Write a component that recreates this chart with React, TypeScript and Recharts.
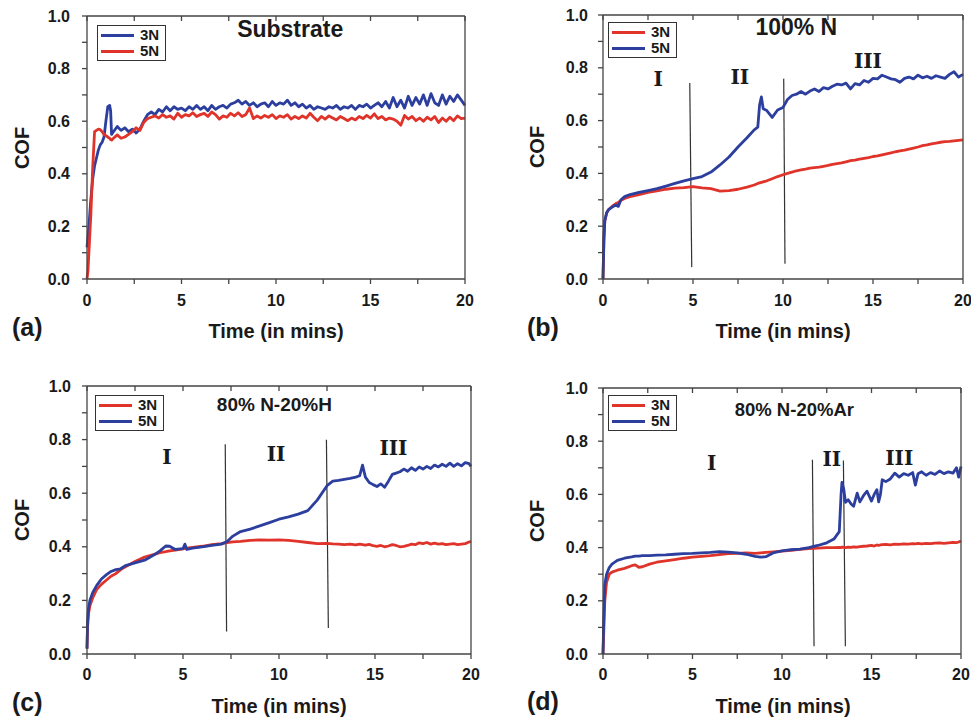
import { LineChart, Line, XAxis, YAxis, ReferenceLine, ReferenceDot, Legend } from 'recharts'

const BLUE = '#2c3f9e'
const RED = '#e0332a'
const AXIS = '#444'
const INK = '#1a1a1a'
const FONT = "'Liberation Sans', Arial, Helvetica, sans-serif"
const SERIF = "'DejaVu Serif', serif"

const xTicks = [0, 2.5, 5, 7.5, 10, 12.5, 15, 17.5, 20]
const yTicks = [0, 0.1, 0.2, 0.3, 0.4, 0.5, 0.6, 0.7, 0.8, 0.9, 1.0]

// (a) Substrate
const timeA = [
  0, 0.05, 0.1, 0.2, 0.3, 0.4, 0.5, 0.6, 0.7, 0.8, 0.9, 1.0, 1.1, 1.2, 1.25, 1.3,
  1.4, 1.6, 1.8, 2.0, 2.2, 2.4, 2.6, 2.8, 3.0, 3.2,
  3.4, 3.6, 3.8, 4.0, 4.2, 4.4, 4.6, 4.8, 5.0, 5.2,
  5.4, 5.6, 5.8, 6.0, 6.2, 6.4, 6.6, 6.8, 7.0, 7.2,
  7.4, 7.6, 7.8, 8.0, 8.2, 8.4, 8.6, 8.8, 9.0, 9.2,
  9.4, 9.6, 9.8, 10.0, 10.2, 10.4, 10.6, 10.8, 11.0, 11.2,
  11.4, 11.6, 11.8, 12.0, 12.2, 12.4, 12.6, 12.8, 13.0, 13.2,
  13.4, 13.6, 13.8, 14.0, 14.2, 14.4, 14.6, 14.8, 15.0, 15.2,
  15.4, 15.6, 15.8, 16.0, 16.2, 16.4, 16.6, 16.8, 17.0, 17.2,
  17.4, 17.6, 17.8, 18.0, 18.2, 18.4, 18.6, 18.8, 19.0, 19.2,
  19.4, 19.6, 19.8, 20.0,
]
const a3N = [
  0.12, 0.16, 0.2, 0.3, 0.38, 0.43, 0.46, 0.49, 0.51, 0.52, 0.54, 0.6, 0.655, 0.66, 0.64, 0.55,
  0.56, 0.58, 0.565, 0.575, 0.56, 0.57, 0.555, 0.57, 0.6, 0.625,
  0.635, 0.625, 0.645, 0.635, 0.655, 0.64, 0.655, 0.645, 0.65, 0.64,
  0.655, 0.645, 0.66, 0.645, 0.655, 0.64, 0.66, 0.645, 0.655, 0.66,
  0.65, 0.665, 0.67, 0.68, 0.665, 0.675, 0.66, 0.67, 0.655, 0.665,
  0.67, 0.655, 0.675, 0.66, 0.67, 0.665, 0.68, 0.66, 0.67, 0.655,
  0.665, 0.65, 0.66, 0.645, 0.655, 0.65, 0.645, 0.655, 0.65, 0.66,
  0.645, 0.655, 0.65, 0.66, 0.645, 0.66, 0.655, 0.665, 0.65, 0.66,
  0.67, 0.655, 0.675, 0.65, 0.69, 0.655, 0.68, 0.65, 0.695, 0.66,
  0.69, 0.665, 0.7, 0.66, 0.705, 0.67, 0.66, 0.7, 0.665, 0.695,
  0.675, 0.7, 0.68, 0.66,
]
const a5N = [
  0, 0.03, 0.1, 0.24, 0.42, 0.56, 0.565, 0.57, 0.568, 0.56, 0.55, 0.545, 0.54, 0.535, 0.53, 0.528,
  0.535, 0.548, 0.535, 0.54, 0.55, 0.56, 0.575, 0.565, 0.595, 0.61,
  0.615, 0.62, 0.612, 0.625, 0.615, 0.62, 0.608, 0.63, 0.615, 0.625,
  0.62, 0.632, 0.618, 0.625, 0.63, 0.618, 0.635, 0.625, 0.608, 0.62,
  0.615, 0.63, 0.62, 0.632, 0.618, 0.625, 0.65, 0.61, 0.62, 0.612,
  0.622, 0.615, 0.625, 0.61, 0.62, 0.615, 0.625, 0.608, 0.618, 0.61,
  0.62, 0.612, 0.63, 0.615, 0.602, 0.618, 0.608, 0.62, 0.612, 0.605,
  0.618, 0.61, 0.602, 0.612, 0.605, 0.618, 0.61, 0.622, 0.612, 0.628,
  0.61, 0.618, 0.605, 0.612, 0.608, 0.6, 0.585, 0.622, 0.608, 0.618,
  0.602, 0.612, 0.6, 0.615, 0.605, 0.618, 0.595, 0.612, 0.6, 0.615,
  0.602, 0.62, 0.61, 0.612,
]

// (b) 100% N
const timeB = [
  0, 0.05, 0.1, 0.2, 0.3, 0.5, 0.7, 0.85, 1.0, 1.2, 1.5,
  2.0, 2.5, 3.0, 3.5, 4.0, 4.5, 5.0, 5.5, 6.0, 6.5, 7.0,
  7.5, 8.0, 8.4, 8.6, 8.7, 8.8, 8.9, 9.1, 9.4, 9.7, 10.0,
  10.25, 10.5, 10.75, 11.0, 11.25, 11.5, 11.75, 12.0, 12.25, 12.5,
  12.75, 13.0, 13.25, 13.5, 13.75, 14.0, 14.25, 14.5, 14.75, 15.0,
  15.25, 15.5, 15.75, 16.0, 16.25, 16.5, 16.75, 17.0, 17.25, 17.5,
  17.75, 18.0, 18.25, 18.5, 18.75, 19.0, 19.25, 19.5, 19.75, 20.0,
]
const b3N = [
  0, 0.15, 0.22, 0.25, 0.262, 0.275, 0.285, 0.29, 0.298, 0.305, 0.312,
  0.32, 0.328, 0.334, 0.34, 0.344, 0.346, 0.35, 0.345, 0.342, 0.333, 0.335,
  0.34, 0.348, 0.356, 0.362, 0.364, 0.366, 0.368, 0.372, 0.38, 0.388, 0.395,
  0.4, 0.405, 0.41, 0.413, 0.416, 0.42, 0.422, 0.424, 0.427, 0.43,
  0.434, 0.437, 0.44, 0.444, 0.448, 0.45, 0.454, 0.457, 0.46, 0.464,
  0.466, 0.47, 0.474, 0.478, 0.482, 0.485, 0.488, 0.492, 0.496, 0.5,
  0.505, 0.508, 0.512, 0.515, 0.518, 0.52, 0.521, 0.523, 0.525, 0.527,
]
const b5N = [
  0, 0.15, 0.22, 0.25, 0.262, 0.272, 0.28, 0.275, 0.3, 0.312, 0.32,
  0.328, 0.335, 0.342, 0.352, 0.362, 0.372, 0.38, 0.388, 0.405, 0.432, 0.462,
  0.5, 0.535, 0.565, 0.575, 0.66, 0.69, 0.645, 0.638, 0.612, 0.64, 0.65,
  0.68, 0.695, 0.7, 0.71, 0.7, 0.712, 0.72, 0.71, 0.725, 0.72,
  0.73, 0.738, 0.735, 0.742, 0.72, 0.74, 0.735, 0.752, 0.745, 0.76,
  0.758, 0.772, 0.765, 0.758, 0.755, 0.745, 0.76, 0.765, 0.758, 0.772,
  0.762, 0.768, 0.76, 0.77, 0.765, 0.76, 0.775, 0.785, 0.765, 0.775,
]

// (c) 80% N-20%H
const timeC = [
  0, 0.03, 0.08, 0.15, 0.3, 0.5, 0.75, 1.0, 1.25, 1.5,
  1.75, 2.0, 2.5, 3.0, 3.5, 3.8, 4.1, 4.3, 4.6, 5.0,
  5.1, 5.2, 5.5, 6.0, 6.5, 7.0, 7.3, 7.6, 8.0, 8.5,
  9.0, 9.5, 10.0, 10.5, 11.0, 11.5, 12.0, 12.5, 12.8, 13.1,
  13.4, 13.7, 14.0, 14.2, 14.35, 14.5, 14.7, 14.9, 15.1, 15.3,
  15.5, 15.7, 15.9, 16.1, 16.3, 16.5, 16.7, 16.9, 17.1, 17.3,
  17.5, 17.7, 17.9, 18.1, 18.3, 18.5, 18.7, 18.9, 19.1, 19.3,
  19.5, 19.7, 19.9, 20.0,
]
const c3N = [
  0.02, 0.1, 0.15, 0.18, 0.21, 0.24, 0.26, 0.275, 0.29, 0.3,
  0.315, 0.325, 0.345, 0.362, 0.372, 0.378, 0.382, 0.385, 0.388, 0.392,
  0.394, 0.395, 0.398, 0.402, 0.408, 0.412, 0.416, 0.418, 0.42, 0.424,
  0.426, 0.425, 0.426, 0.424, 0.42, 0.416, 0.412, 0.413, 0.411, 0.41,
  0.408, 0.41, 0.407, 0.41, 0.408, 0.406, 0.409, 0.404, 0.402, 0.405,
  0.4, 0.403, 0.408, 0.405, 0.4, 0.402, 0.405, 0.41, 0.408, 0.415,
  0.412, 0.416, 0.41, 0.414, 0.41, 0.412, 0.408, 0.41, 0.412, 0.408,
  0.41, 0.412, 0.418, 0.42,
]
const c5N = [
  0.02, 0.12, 0.17, 0.2, 0.23, 0.255, 0.28, 0.295, 0.308, 0.315,
  0.318, 0.33, 0.34, 0.35, 0.37, 0.385, 0.403, 0.402, 0.39, 0.393,
  0.41, 0.39, 0.395, 0.4, 0.405, 0.41, 0.42, 0.44, 0.457, 0.466,
  0.478, 0.49, 0.503, 0.512, 0.522, 0.535, 0.575, 0.628, 0.645, 0.648,
  0.652, 0.655, 0.66, 0.665, 0.705, 0.66, 0.64, 0.632, 0.625, 0.635,
  0.622, 0.645, 0.67, 0.675, 0.68, 0.69, 0.682, 0.695, 0.685, 0.698,
  0.69, 0.7, 0.692, 0.705, 0.698, 0.708, 0.7, 0.712, 0.7, 0.71,
  0.702, 0.714, 0.71, 0.7,
]

// (d) 80% N-20%Ar
const timeD = [
  0, 0.05, 0.1, 0.2, 0.35, 0.5, 0.8, 1.2, 1.6, 1.8,
  2.0, 2.2, 2.6, 3.0, 3.5, 4.0, 4.5, 5.0, 5.5, 6.0,
  6.5, 7.0, 7.5, 8.0, 8.5, 8.8, 9.1, 9.5, 10.0, 10.5,
  11.0, 11.5, 12.0, 12.5, 12.9, 13.2, 13.3, 13.35, 13.45, 13.55,
  13.7, 13.85, 14.0, 14.2, 14.35, 14.55, 14.75, 15.0, 15.15, 15.3,
  15.4, 15.5, 15.6, 15.8, 16.05, 16.3, 16.55, 16.8, 17.05, 17.3,
  17.45, 17.6, 17.8, 18.05, 18.3, 18.55, 18.8, 19.05, 19.3, 19.55,
  19.75, 19.87, 20.0,
]
const d3N = [
  0, 0.1, 0.2, 0.27, 0.3, 0.308, 0.315, 0.322, 0.332, 0.335,
  0.326, 0.328, 0.338, 0.345, 0.35, 0.355, 0.36, 0.364, 0.367, 0.37,
  0.374, 0.377, 0.378, 0.38, 0.378, 0.38, 0.382, 0.384, 0.387, 0.39,
  0.393, 0.396, 0.398, 0.4, 0.4, 0.401, 0.4, 0.402, 0.401, 0.4,
  0.402, 0.401, 0.403, 0.402, 0.404, 0.405, 0.406, 0.408, 0.406, 0.41,
  0.408, 0.41, 0.411, 0.412, 0.41, 0.413, 0.412, 0.414, 0.413, 0.415,
  0.414, 0.416, 0.414, 0.416, 0.415, 0.417, 0.418, 0.416, 0.418, 0.42,
  0.419, 0.421, 0.425,
]
const d5N = [
  0, 0.15, 0.26, 0.3, 0.325, 0.338, 0.352, 0.36, 0.365, 0.368,
  0.368, 0.37, 0.37, 0.372, 0.373, 0.375, 0.377, 0.378, 0.38, 0.382,
  0.385, 0.383, 0.38, 0.375, 0.367, 0.364, 0.366, 0.38, 0.388, 0.392,
  0.394, 0.4, 0.408, 0.418, 0.432, 0.46, 0.6, 0.645, 0.62, 0.57,
  0.58, 0.565, 0.555, 0.605, 0.572, 0.595, 0.612, 0.575, 0.6, 0.618,
  0.572, 0.6, 0.655, 0.648, 0.658, 0.68, 0.665, 0.678, 0.672, 0.682,
  0.635, 0.678, 0.685, 0.672, 0.682, 0.675, 0.688, 0.678, 0.685, 0.68,
  0.7, 0.665, 0.705,
]

interface Seg { x1: number; y1: number; x2: number; y2: number }
interface Note { x: number; y: number; text: string }

interface PanelProps {
  left: number
  top: number
  width: number
  height: number
  marginTop: number
  marginRight: number
  yAxisWidth: number
  xAxisHeight: number
  yTickMargin: number
  xTickMargin: number
  time: number[]
  n3: number[]
  n5: number[]
  substrate?: boolean
  title: Note
  titleSize: number
  phases: Seg[]
  numerals: Note[]
  legendAt: [number, number]
  letter: string
  letterAt: [number, number]
  cofAt: [number, number]
  timeAt: [number, number]
}

const fmtX = (v: number) => (v % 5 === 0 ? String(v) : '')
const fmtY = (v: number) => (Math.round(v * 10) % 2 === 0 ? v.toFixed(1) : '')
const blank = () => ''
const tickStyle = { fill: INK, fontSize: 16, fontWeight: 700, fontFamily: FONT }
const lineStyle = { stroke: AXIS, strokeWidth: 1.3 }

const LegendBox = ({ items }: { items: { label: string; color: string }[] }) => (
  <div
    style={{
      width: 67,
      height: 33,
      border: '1px solid #333',
      background: '#fff',
      paddingTop: 1,
      fontFamily: FONT,
      color: INK,
    }}
  >
    {items.map((it) => (
      <div key={it.label} style={{ display: 'flex', alignItems: 'center', height: 16 }}>
        <span style={{ display: 'inline-block', width: 33, height: 3, background: it.color, marginLeft: 3, marginRight: 6 }} />
        <span style={{ fontSize: 15, fontWeight: 700, lineHeight: '16px' }}>{it.label}</span>
      </div>
    ))}
  </div>
)

const Panel = (p: PanelProps) => {
  const rows = p.time.map((t, i) => ({ t, n3: p.n3[i], n5: p.n5[i] }))
  const c3 = p.substrate ? BLUE : RED
  const c5 = p.substrate ? RED : BLUE
  const legendItems = [
    { label: '3N', color: c3 },
    { label: '5N', color: c5 },
  ]

  return (
    <>
      <div style={{ position: 'absolute', left: p.left, top: p.top }}>
        <LineChart
          width={p.width}
          height={p.height}
          data={rows}
          margin={{ top: p.marginTop, right: p.marginRight, left: 0, bottom: 0 }}
        >
          <XAxis
            dataKey="t"
            type="number"
            domain={[0, 20]}
            ticks={xTicks}
            interval={0}
            tickFormatter={fmtX}
            tickSize={5}
            tickMargin={p.xTickMargin}
            height={p.xAxisHeight}
            axisLine={lineStyle}
            tickLine={lineStyle}
            tick={tickStyle}
          />
          <XAxis
            xAxisId="top"
            orientation="top"
            mirror
            dataKey="t"
            type="number"
            domain={[0, 20]}
            ticks={xTicks}
            interval={0}
            tickFormatter={blank}
            tickSize={5}
            axisLine={lineStyle}
            tickLine={lineStyle}
          />
          <YAxis
            type="number"
            domain={[0, 1]}
            ticks={yTicks}
            interval={0}
            tickFormatter={fmtY}
            width={p.yAxisWidth}
            tickSize={5}
            tickMargin={p.yTickMargin}
            axisLine={lineStyle}
            tickLine={lineStyle}
            tick={tickStyle}
          />
          <YAxis
            yAxisId="right"
            orientation="right"
            mirror
            type="number"
            domain={[0, 1]}
            ticks={yTicks}
            interval={0}
            tickFormatter={blank}
            tickSize={5}
            axisLine={lineStyle}
            tickLine={lineStyle}
          />
          {p.phases.map((s, i) => (
            <ReferenceLine
              key={`ph${i}`}
              segment={[
                { x: s.x1, y: s.y1 },
                { x: s.x2, y: s.y2 },
              ]}
              stroke="#333"
              strokeWidth={1.2}
            />
          ))}
          <Line
            dataKey="n3"
            type="linear"
            stroke={c3}
            strokeWidth={2.8}
            strokeLinejoin="round"
            dot={false}
            activeDot={false}
            isAnimationActive={false}
          />
          <Line
            dataKey="n5"
            type="linear"
            stroke={c5}
            strokeWidth={2.8}
            strokeLinejoin="round"
            dot={false}
            activeDot={false}
            isAnimationActive={false}
          />
          {[p.title, ...p.numerals].map((n, i) => (
            <ReferenceDot
              key={`n${i}`}
              x={n.x}
              y={n.y}
              r={0}
              shape={(s: { cx: number; cy: number }) => (
                <text
                  x={s.cx}
                  y={s.cy}
                  dy="0.36em"
                  textAnchor="middle"
                  fill={INK}
                  fontWeight={700}
                  fontSize={i === 0 ? p.titleSize : 20}
                  fontFamily={i === 0 ? FONT : SERIF}
                >
                  {n.text}
                </text>
              )}
            />
          ))}
          <Legend
            layout="vertical"
            align="center"
            verticalAlign="middle"
            wrapperStyle={{ left: p.legendAt[0], top: p.legendAt[1], width: 69, height: 35 }}
            content={() => <LegendBox items={legendItems} />}
          />
        </LineChart>
      </div>
      <div
        style={{
          position: 'absolute',
          left: p.letterAt[0],
          top: p.letterAt[1],
          fontFamily: FONT,
          fontWeight: 700,
          fontSize: 25,
          lineHeight: 1,
          color: INK,
        }}
      >
        {p.letter}
      </div>
      <div
        style={{
          position: 'absolute',
          left: p.cofAt[0],
          top: p.cofAt[1],
          transform: 'translate(-50%, -50%) rotate(-90deg)',
          fontFamily: FONT,
          fontWeight: 700,
          fontSize: 20,
          lineHeight: 1,
          whiteSpace: 'nowrap',
          color: INK,
        }}
      >
        COF
      </div>
      <div
        style={{
          position: 'absolute',
          left: p.timeAt[0],
          top: p.timeAt[1],
          transform: 'translateX(-50%)',
          fontFamily: FONT,
          fontWeight: 700,
          fontSize: 20,
          lineHeight: 1,
          whiteSpace: 'nowrap',
          color: INK,
        }}
      >
        Time (in mins)
      </div>
    </>
  )
}

export default function App() {
  return (
    <div
      style={{
        position: 'absolute',
        left: 0,
        top: 0,
        width: 971,
        height: 719,
        overflow: 'hidden',
        background: '#fff',
      }}
    >
      <Panel
        left={0}
        top={0}
        width={480}
        height={345}
        marginTop={16}
        marginRight={15}
        yAxisWidth={87}
        xAxisHeight={66}
        yTickMargin={12}
        xTickMargin={11}
        time={timeA}
        n3={a3N}
        n5={a5N}
        substrate
        title={{ x: 10.75, y: 0.95, text: 'Substrate' }}
        titleSize={23}
        phases={[]}
        numerals={[]}
        legendAt={[97, 25]}
        letter="(a)"
        letterAt={[12, 315]}
        cofAt={[21.5, 147.5]}
        timeAt={[276, 321]}
      />
      <Panel
        left={490}
        top={0}
        width={481}
        height={345}
        marginTop={15}
        marginRight={8}
        yAxisWidth={113}
        xAxisHeight={66}
        yTickMargin={10}
        xTickMargin={11}
        time={timeB}
        n3={b3N}
        n5={b5N}
        title={{ x: 10.74, y: 0.956, text: '100% N' }}
        titleSize={23}
        phases={[
          { x1: 4.82, y1: 0.742, x2: 4.93, y2: 0.045 },
          { x1: 10.04, y1: 0.759, x2: 10.11, y2: 0.058 },
        ]}
        numerals={[
          { x: 3.06, y: 0.757, text: 'I' },
          { x: 7.6, y: 0.767, text: 'II' },
          { x: 14.72, y: 0.826, text: 'III' },
        ]}
        legendAt={[118, 22]}
        letter="(b)"
        letterAt={[527, 315]}
        cofAt={[536.7, 147]}
        timeAt={[783, 321]}
      />
      <Panel
        left={0}
        top={370}
        width={480}
        height={349}
        marginTop={16}
        marginRight={9}
        yAxisWidth={87}
        xAxisHeight={65}
        yTickMargin={11}
        xTickMargin={10}
        time={timeC}
        n3={c3N}
        n5={c5N}
        title={{ x: 9.76, y: 0.933, text: '80% N-20%H' }}
        titleSize={19}
        phases={[
          { x1: 7.2, y1: 0.783, x2: 7.27, y2: 0.084 },
          { x1: 12.47, y1: 0.799, x2: 12.57, y2: 0.097 },
        ]}
        numerals={[
          { x: 4.16, y: 0.736, text: 'I' },
          { x: 9.85, y: 0.747, text: 'II' },
          { x: 15.96, y: 0.768, text: 'III' },
        ]}
        legendAt={[95, 25]}
        letter="(c)"
        letterAt={[12, 690]}
        cofAt={[21.5, 520]}
        timeAt={[279, 695.5]}
      />
      <Panel
        left={490}
        top={370}
        width={481}
        height={349}
        marginTop={18}
        marginRight={10}
        yAxisWidth={113}
        xAxisHeight={65}
        yTickMargin={10}
        xTickMargin={10}
        time={timeD}
        n3={d3N}
        n5={d5N}
        title={{ x: 10.69, y: 0.918, text: '80% N-20%Ar' }}
        titleSize={18.5}
        phases={[
          { x1: 11.7, y1: 0.73, x2: 11.79, y2: 0.029 },
          { x1: 13.43, y1: 0.727, x2: 13.54, y2: 0.029 },
        ]}
        numerals={[
          { x: 6.07, y: 0.72, text: 'I' },
          { x: 12.78, y: 0.735, text: 'II' },
          { x: 16.55, y: 0.738, text: 'III' },
        ]}
        legendAt={[118, 25]}
        letter="(d)"
        letterAt={[527, 689]}
        cofAt={[536.7, 521]}
        timeAt={[783, 695.5]}
      />
    </div>
  )
}
